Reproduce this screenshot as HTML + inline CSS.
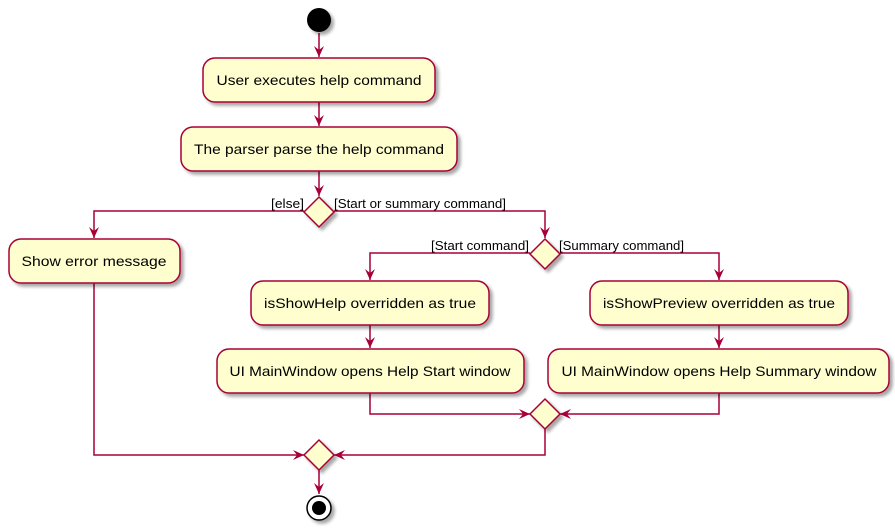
<!DOCTYPE html>
<html><head><meta charset="utf-8"><style>
html,body{margin:0;padding:0;background:#fff;}
svg{display:block;}
text{font-family:"Liberation Sans",sans-serif;fill:#000;}
</style></head><body>
<svg width="895" height="530" viewBox="0 0 895 530" xmlns="http://www.w3.org/2000/svg">
<defs>
<filter id="sh" x="-10%" y="-10%" width="130%" height="140%">
<feGaussianBlur in="SourceAlpha" stdDeviation="1.5"/>
<feOffset dx="3" dy="3" result="o"/>
<feComponentTransfer><feFuncA type="linear" slope="0.35"/></feComponentTransfer>
<feMerge><feMergeNode/><feMergeNode in="SourceGraphic"/></feMerge>
</filter>
<marker id="ar" viewBox="0 0 12 12" refX="11" refY="6" markerWidth="12" markerHeight="12" markerUnits="userSpaceOnUse" orient="auto">
<path d="M0,1 L11,6 L0,11 L4,6 Z" fill="#A80036"/>
</marker>
</defs>
<g stroke="#A80036" stroke-width="1.5" fill="none">
<line x1="319" y1="33" x2="319" y2="57" marker-end="url(#ar)"/>
<line x1="319" y1="102" x2="319" y2="126" marker-end="url(#ar)"/>
<line x1="319" y1="171" x2="319" y2="196" marker-end="url(#ar)"/>
<polyline points="304,211 94,211 94,238" marker-end="url(#ar)"/>
<polyline points="334,211 545,211 545,238" marker-end="url(#ar)"/>
<polyline points="530,253 370,253 370,280" marker-end="url(#ar)"/>
<polyline points="560,253 719,253 719,280" marker-end="url(#ar)"/>
<line x1="370" y1="325" x2="370" y2="348" marker-end="url(#ar)"/>
<line x1="719" y1="325" x2="719" y2="348" marker-end="url(#ar)"/>
<polyline points="370,393 370,414 530,414" marker-end="url(#ar)"/>
<polyline points="719,393 719,414 560,414" marker-end="url(#ar)"/>
<polyline points="94,283 94,455 304,455" marker-end="url(#ar)"/>
<polyline points="545,429 545,455 334,455" marker-end="url(#ar)"/>
<line x1="319" y1="470" x2="319" y2="494" marker-end="url(#ar)"/>
</g>
<g filter="url(#sh)">
<circle cx="319" cy="20" r="12" fill="#000"/>
<g fill="#FEFECE" stroke="#A80036" stroke-width="1.5">
<rect x="203" y="58" width="232" height="44" rx="12"/>
<rect x="181" y="127" width="276" height="44" rx="12"/>
<rect x="9" y="239" width="171" height="44" rx="12"/>
<rect x="251" y="281" width="238" height="44" rx="12"/>
<rect x="590" y="281" width="258" height="44" rx="12"/>
<rect x="217" y="349" width="307" height="44" rx="12"/>
<rect x="548" y="349" width="341" height="44" rx="12"/>
<polygon points="319,197 334,212 319,227 304,212"/>
<polygon points="545,239 560,254 545,269 530,254"/>
<polygon points="545,399 560,414 545,429 530,414"/>
<polygon points="319,440 334,455 319,470 304,455"/>
</g>
<circle cx="319" cy="508" r="12" fill="#fff" stroke="#000" stroke-width="1.5"/>
<circle cx="319" cy="508" r="7" fill="#000"/>
</g>
<g font-size="14" text-anchor="middle">
<text x="319" y="85" textLength="205" lengthAdjust="spacingAndGlyphs">User executes help command</text>
<text x="319" y="154" textLength="250" lengthAdjust="spacingAndGlyphs">The parser parse the help command</text>
<text x="94" y="266" textLength="145" lengthAdjust="spacingAndGlyphs">Show error message</text>
<text x="370" y="308" textLength="212" lengthAdjust="spacingAndGlyphs">isShowHelp overridden as true</text>
<text x="719" y="308" textLength="232" lengthAdjust="spacingAndGlyphs">isShowPreview overridden as true</text>
<text x="370" y="376" textLength="281" lengthAdjust="spacingAndGlyphs">UI MainWindow opens Help Start window</text>
<text x="719" y="376" textLength="315" lengthAdjust="spacingAndGlyphs">UI MainWindow opens Help Summary window</text>
</g>
<g font-size="13">
<text x="271" y="208" textLength="33" lengthAdjust="spacingAndGlyphs">[else]</text>
<text x="334" y="208" textLength="172" lengthAdjust="spacingAndGlyphs">[Start or summary command]</text>
<text x="431" y="250" textLength="98" lengthAdjust="spacingAndGlyphs">[Start command]</text>
<text x="559" y="250" textLength="125" lengthAdjust="spacingAndGlyphs">[Summary command]</text>
</g>
</svg>
</body></html>
